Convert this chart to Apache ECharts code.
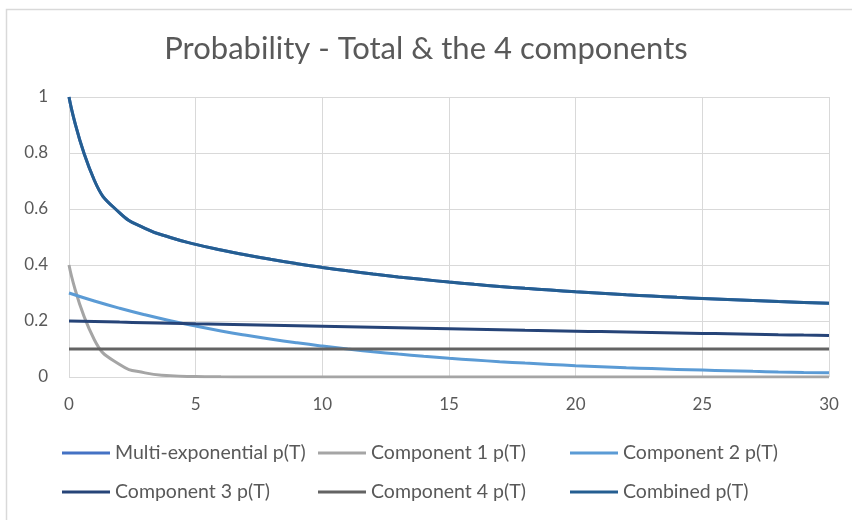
<!DOCTYPE html>
<html>
<head>
<meta charset="utf-8">
<title>Probability - Total & the 4 components</title>
<script src="https://cdn.jsdelivr.net/npm/echarts@6/dist/echarts.min.js"></script>
<style>
    html,body{margin:0;padding:0;background:#fff;}
    #chart{width:852px;height:520px;}
</style>
</head>
<body>
<div id="chart"></div>
<script>
    // T values (x axis), one point per unit like the source sheet
    var tValues = [0, 1, 2, 3, 4, 5, 6, 7, 8, 9, 10, 11, 12, 13, 14, 15, 16, 17, 18, 19, 20, 21, 22, 23, 24, 25, 26, 27, 28, 29, 30];
    // series
    var comp1 = [0.4, 0.1331, 0.0443, 0.0147, 0.0049, 0.0016, 0.0005, 0.0002, 0.0001, 0, 0, 0, 0, 0, 0, 0, 0, 0, 0, 0, 0, 0, 0, 0, 0, 0, 0, 0, 0, 0, 0];
    var comp2 = [0.3, 0.2715, 0.2456, 0.2222, 0.2011, 0.182, 0.1646, 0.149, 0.1348, 0.122, 0.1104, 0.0999, 0.0904, 0.0818, 0.074, 0.0669, 0.0606, 0.0548, 0.0496, 0.0449, 0.0406, 0.0367, 0.0332, 0.0301, 0.0272, 0.0246, 0.0223, 0.0201, 0.0182, 0.0165, 0.0149];
    var comp3 = [0.2, 0.198, 0.196, 0.1941, 0.1922, 0.1902, 0.1884, 0.1865, 0.1846, 0.1828, 0.181, 0.1792, 0.1774, 0.1756, 0.1739, 0.1721, 0.1704, 0.1687, 0.167, 0.1654, 0.1637, 0.1621, 0.1605, 0.1589, 0.1573, 0.1558, 0.1542, 0.1527, 0.1511, 0.1497, 0.1482];
    var comp4 = [0.1, 0.1, 0.1, 0.1, 0.1, 0.1, 0.1, 0.1, 0.1, 0.1, 0.1, 0.1, 0.1, 0.1, 0.1, 0.1, 0.1, 0.1, 0.1, 0.1, 0.1, 0.1, 0.1, 0.1, 0.1, 0.1, 0.1, 0.1, 0.1, 0.1, 0.1];
    var combined = [1.0, 0.7026, 0.5859, 0.531, 0.4982, 0.4738, 0.4535, 0.4357, 0.4195, 0.4048, 0.3914, 0.3791, 0.3678, 0.3574, 0.3479, 0.339, 0.331, 0.3235, 0.3166, 0.3103, 0.3043, 0.2988, 0.2937, 0.289, 0.2845, 0.2804, 0.2765, 0.2728, 0.2693, 0.2662, 0.2631];
    // multi-exponential sits right under the combined line
    var multiExp = combined;

    var names = ['Multi-exponential p(T)', 'Component 1 p(T)', 'Component 2 p(T)', 'Component 3 p(T)', 'Component 4 p(T)', 'Combined p(T)'];
    var colors = ['#4472C4', '#A5A5A5', '#5B9BD5', '#264478', '#636363', '#255E91'];
    var values = [multiExp, comp1, comp2, comp3, comp4, combined];

    function pairs(ys) {
        return tValues.map(function (t, i) { return [t, ys[i]]; });
    }

    var font = 'Lato, "Open Sans", sans-serif';

    // one legend per item so the columns line up like in excel (left/top include the 5px padding)
    var legendPos = [[57, 438], [313, 438], [565, 438], [57, 477], [313, 477], [565, 477]];
    var legends = names.map(function (n, i) {
        return {
            data: [n],
            left: legendPos[i][0],
            top: legendPos[i][1],
            itemWidth: 48,
            itemHeight: 3,
            icon: 'rect',
            textStyle: {color: '#595959', fontSize: 19.5, fontFamily: font}
        };
    });

    var chart = echarts.init(document.getElementById('chart'));
    chart.setOption({
        animation: false,
        color: colors,
        title: {
            text: 'Probability - Total & the 4 components',
            left: 'center',
            top: 28,
            textStyle: {color: '#595959', fontSize: 31, fontWeight: 'normal', fontFamily: font}
        },
        graphic: [{
            type: 'rect',
            shape: {x: 6.5, y: 9.5, width: 900, height: 600},
            style: {fill: 'none', stroke: '#d9d9d9', lineWidth: 1.5},
            silent: true
        }],
        legend: legends,
        grid: {left: 69, right: 23, top: 97, bottom: 143},
        xAxis: {
            type: 'value',
            min: 0,
            max: 30,
            interval: 5,
            axisLine: {show: false},
            axisTick: {show: false},
            splitLine: {show: true, lineStyle: {color: '#d9d9d9', width: 1}},
            axisLabel: {color: '#595959', fontSize: 17, fontFamily: font, margin: 19}
        },
        yAxis: {
            type: 'value',
            min: 0,
            max: 1,
            interval: 0.2,
            axisLine: {show: false},
            axisTick: {show: false},
            splitLine: {show: true, lineStyle: {color: '#d9d9d9', width: 1}},
            axisLabel: {color: '#595959', fontSize: 17, fontFamily: font, margin: 21}
        },
        series: names.map(function (n, i) {
            return {
                name: n,
                type: 'line',
                data: pairs(values[i]),
                smooth: 0.5,
                showSymbol: false,
                lineStyle: {width: 3, color: colors[i]},
                itemStyle: {color: colors[i]}
            };
        })
    });
</script>
</body>
</html>
